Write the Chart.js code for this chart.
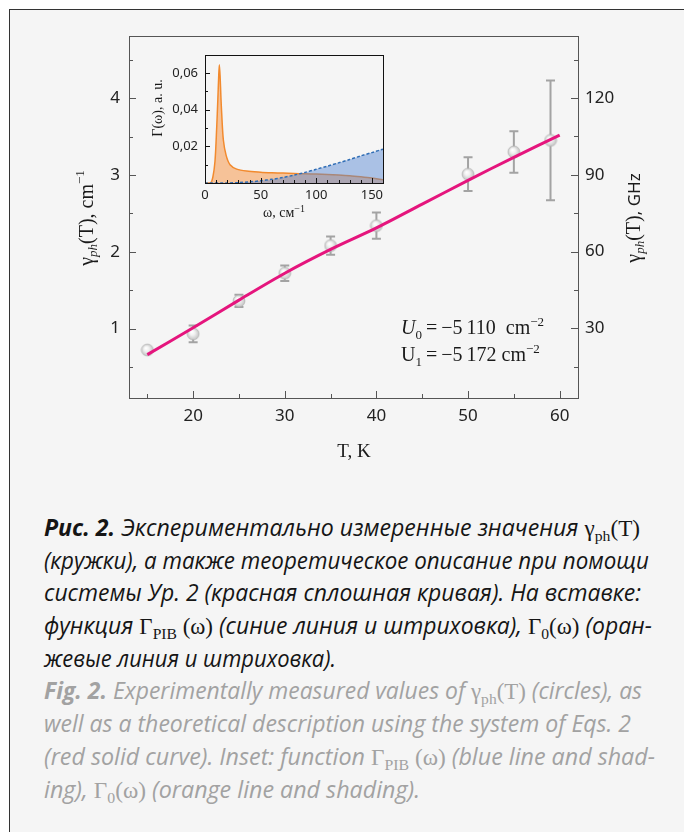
<!DOCTYPE html>
<html>
<head>
<meta charset="utf-8">
<script src="https://cdn.jsdelivr.net/npm/chart.js@4.4.1/dist/chart.umd.min.js"></script>
<style>
  html, body { margin: 0; padding: 0; background: #fff; }
  body { width: 684px; height: 832px; position: relative; overflow: hidden; }
  .panel { position: absolute; left: 9px; top: 9px; width: 700px; height: 840px;
           background: #f5f5f5; border-left: 1px solid #333; border-top: 1px solid #333; }
  #main { position: absolute; left: 0; top: 0; }
  #inset { position: absolute; left: 140px; top: 40px; }
  .cap { position: absolute; left: 44px; top: 511px; font-family: "Open Sans", "Noto Sans", sans-serif;
         font-style: italic; font-size: 23px; line-height: 32.7px; color: #151515; }
  .cap .ln { white-space: nowrap; height: 32.7px; }
  .cap .fit { display: inline-block; transform-origin: 0 50%; }
  .cap .en { color: #a2a2a2; }
  .s { font-family: "Liberation Serif", serif; font-style: normal; }
  .cap sub { font-size: 0.68em; vertical-align: -0.32em; line-height: 0; }
</style>
</head>
<body>
<div class="panel"></div>
<canvas id="main" width="684" height="480"></canvas>
<canvas id="inset" width="250" height="185"></canvas>

<div class="cap">
  <div class="ln"><span class="fit" data-w="596"><b>Рис. 2.</b> Экспериментально измеренные значения <span class="s">γ<sub>ph</sub>(T)</span></span></div>
  <div class="ln"><span class="fit" data-w="605">(кружки), а также теоретическое описание при помощи</span></div>
  <div class="ln"><span class="fit" data-w="597">системы Ур. 2 (красная сплошная кривая). На вставке:</span></div>
  <div class="ln"><span class="fit" data-w="608">функция <span class="s">Γ<sub>PIB</sub> (ω)</span> (синие линия и штриховка), <span class="s">Γ<sub>0</sub>(ω)</span> (оран-</span></div>
  <div class="ln"><span class="fit" data-w="292">жевые линия и штриховка).</span></div>
  <div class="ln en"><span class="fit" data-w="598"><b>Fig. 2.</b> Experimentally measured values of <span class="s">γ<sub>ph</sub>(T)</span> (circles), as</span></div>
  <div class="ln en"><span class="fit" data-w="587">well as a theoretical description using the system of Eqs. 2</span></div>
  <div class="ln en"><span class="fit" data-w="611">(red solid curve). Inset: function <span class="s">Γ<sub>PIB</sub> (ω)</span> (blue line and shad-</span></div>
  <div class="ln en"><span class="fit" data-w="376">ing), <span class="s">Γ<sub>0</sub>(ω)</span> (orange line and shading).</span></div>
</div>

<script>
// measured points, T in K, gamma in cm^-1
const T = [15, 20, 25, 30, 35, 40, 50, 55, 59];
const gamma = [0.72, 0.93, 1.36, 1.72, 2.08, 2.34, 3.01, 3.30, 3.45];
const gammaErr = [0, 0.11, 0.08, 0.10, 0.12, 0.17, 0.22, 0.27, 0.78];

// fit curve (Eq. 2)
const fitT = [15, 20, 25, 30, 35, 40, 45, 50, 55, 60];
const fitGamma = [0.66, 1.01, 1.37, 1.72, 2.03, 2.31, 2.62, 2.93, 3.23, 3.52];

const xTicks = [15, 20, 25, 30, 35, 40, 45, 50, 55, 60];
const xLabels = [20, 30, 40, 50, 60];
const yTicks = [0.5, 1, 1.5, 2, 2.5, 3, 3.5, 4, 4.5];
const yLabels = [1, 2, 3, 4];
const ghzTicks = [15, 30, 45, 60, 75, 90, 105, 120, 135];
const ghzLabels = [30, 60, 90, 120];

// inset: Gamma_0(omega) and Gamma_PIB(omega)
const omega0 = [0, 5, 7, 9, 10.5, 11.5, 12.3, 12.9, 13.6, 14.3, 15, 16.5, 19, 22.5, 28.5, 37.5, 50, 60, 70, 80, 90, 100, 110, 120, 130, 140, 150, 160];
const gamma0 = [0, 0, 0.003, 0.012, 0.03, 0.045, 0.058, 0.0646, 0.058, 0.047, 0.038, 0.0235, 0.0151, 0.010, 0.0076, 0.0065, 0.0059, 0.0056, 0.0054, 0.0052, 0.005, 0.0049, 0.0047, 0.0044, 0.004, 0.0034, 0.0027, 0.0018];
const omegaPIB = [0, 20, 30, 40, 50, 60, 70, 80, 90, 100, 110, 120, 130, 140, 150, 160];
const gammaPIB = [0, 0, 0.0002, 0.0006, 0.0012, 0.002, 0.003, 0.0043, 0.0058, 0.0075, 0.0092, 0.011, 0.0128, 0.0148, 0.0166, 0.0185];

const insetXTicks = [0, 10, 20, 30, 40, 50, 60, 70, 80, 90, 100, 110, 120, 130, 140, 150, 160];
const insetXLabels = [0, 50, 100, 150];
const insetYTicks = [0.01, 0.02, 0.03, 0.04, 0.05, 0.06];
const insetYLabels = [0.02, 0.04, 0.06];

const CM_TO_GHZ = 29.98;
const yMin = 0.095, yMax = 4.81;

Chart.defaults.font.family = '"Noto Sans", sans-serif';
Chart.defaults.color = '#222';

const SERIF = '"Liberation Serif", serif';

// text with sub/superscripts on canvas
function drawRich(ctx, segs, x, y, align) {
  let w = 0;
  segs.forEach(s => { ctx.font = s.f; w += ctx.measureText(s.t).width; });
  let cx = align === 'center' ? x - w / 2 : x;
  segs.forEach(s => {
    ctx.font = s.f;
    ctx.fillText(s.t, cx, y + (s.dy || 0));
    cx += ctx.measureText(s.t).width;
  });
}

// white shaded ball for the markers
function sphere(r) {
  const c = document.createElement('canvas');
  c.width = c.height = 2 * r + 2;
  const g = c.getContext('2d');
  const grad = g.createRadialGradient(r - 0.5, r - 1, 0.5, r + 1, r + 1, r);
  grad.addColorStop(0, '#ffffff');
  grad.addColorStop(0.4, '#f0f0f0');
  grad.addColorStop(0.8, '#d2d2d2');
  grad.addColorStop(1, '#bcbcbc');
  g.fillStyle = grad;
  g.beginPath();
  g.arc(r + 1, r + 1, r, 0, Math.PI * 2);
  g.fill();
  g.strokeStyle = 'rgba(175,175,175,0.7)';
  g.lineWidth = 0.8;
  g.stroke();
  return c;
}

// box + inward ticks
const frame = {
  id: 'frame',
  afterDatasetsDraw(chart, args, opts) {
    const {ctx, chartArea: a} = chart;
    ctx.save();
    ctx.strokeStyle = opts.color;
    ctx.lineWidth = 1;
    ctx.strokeRect(Math.round(a.left) + 0.5, Math.round(a.top) + 0.5,
                   Math.round(a.right - a.left), Math.round(a.bottom - a.top));
    opts.ticks.forEach(t => {
      const s = chart.scales[t.id];
      s.ticks.forEach(tk => {
        const len = t.labels.includes(tk.value) ? opts.major : opts.minor;
        const p = Math.round(s.getPixelForValue(tk.value)) + 0.5;
        ctx.beginPath();
        if (s.position === 'bottom') { ctx.moveTo(p, a.bottom); ctx.lineTo(p, a.bottom - len); }
        else if (s.position === 'left') { ctx.moveTo(a.left, p); ctx.lineTo(a.left + len, p); }
        else { ctx.moveTo(a.right, p); ctx.lineTo(a.right - len, p); }
        ctx.stroke();
      });
    });
    ctx.restore();
  }
};

const errorBars = {
  id: 'errorBars',
  beforeDatasetsDraw(chart) {
    const {ctx, scales: {x, y}} = chart;
    ctx.save();
    ctx.strokeStyle = '#a3a3a3';
    ctx.lineWidth = 2;
    T.forEach((t, i) => {
      if (!gammaErr[i]) return;
      const px = x.getPixelForValue(t);
      const top = y.getPixelForValue(gamma[i] + gammaErr[i]);
      const bot = y.getPixelForValue(gamma[i] - gammaErr[i]);
      ctx.beginPath();
      ctx.moveTo(px, top); ctx.lineTo(px, bot);
      ctx.moveTo(px - 4.5, top); ctx.lineTo(px + 4.5, top);
      ctx.moveTo(px - 4.5, bot); ctx.lineTo(px + 4.5, bot);
      ctx.stroke();
    });
    ctx.restore();
  }
};

const mainText = {
  id: 'mainText',
  afterDraw(chart) {
    const {ctx} = chart;
    ctx.save();
    ctx.fillStyle = '#1a1a1a';
    ctx.textBaseline = 'alphabetic';
    ctx.textAlign = 'left';
    // left title
    ctx.save();
    ctx.translate(86, 218);
    ctx.rotate(-Math.PI / 2);
    drawRich(ctx, [
      {t: 'γ', f: '20px ' + SERIF},
      {t: 'ph', f: 'italic 13px ' + SERIF, dy: 4},
      {t: '(T), cm', f: '20px ' + SERIF},
      {t: '−1', f: '13px ' + SERIF, dy: -9}
    ], 0, 6.5, 'center');
    ctx.restore();
    // right title
    ctx.save();
    ctx.translate(634, 218);
    ctx.rotate(-Math.PI / 2);
    drawRich(ctx, [
      {t: 'γ', f: '20px ' + SERIF},
      {t: 'ph', f: 'italic 13px ' + SERIF, dy: 4},
      {t: '(T)', f: '20px ' + SERIF},
      {t: ', GHz', f: '17px "Noto Sans"'}
    ], 0, 6, 'center');
    ctx.restore();
    // x title
    drawRich(ctx, [{t: 'T, K', f: '19px ' + SERIF}], 354, 457, 'center');
    // U0, U1
    drawRich(ctx, [
      {t: 'U', f: 'italic 20px ' + SERIF},
      {t: '0', f: '13px ' + SERIF, dy: 5},
      {t: '\u2009=\u2009−5\u2009110  cm', f: '20px ' + SERIF},
      {t: '−2', f: '13px ' + SERIF, dy: -8}
    ], 401, 333.5, 'left');
    drawRich(ctx, [
      {t: 'U', f: '20px ' + SERIF},
      {t: '1', f: '13px ' + SERIF, dy: 5},
      {t: '\u2009=\u2009−5\u2009172 cm', f: '20px ' + SERIF},
      {t: '−2', f: '13px ' + SERIF, dy: -8}
    ], 401, 361, 'left');
    ctx.restore();
  }
};

const tickFont = {size: 17};

new Chart(document.getElementById('main'), {
  data: {
    datasets: [
      {
        type: 'line',
        data: fitT.map((t, i) => ({x: t, y: fitGamma[i]})),
        borderColor: '#e5157d',
        borderWidth: 3,
        pointRadius: 0,
        tension: 0.3,
        fill: false
      },
      {
        type: 'scatter',
        data: T.map((t, i) => ({x: t, y: gamma[i]})),
        pointStyle: sphere(6),
        pointRadius: 6
      }
    ]
  },
  options: {
    responsive: false,
    animation: false,
    layout: {padding: {top: 36, left: 0, right: 0, bottom: 0}},
    plugins: {
      legend: {display: false},
      tooltip: {enabled: false},
      frame: {color: '#555', major: 7, minor: 4, ticks: [
        {id: 'x', labels: xLabels}, {id: 'y', labels: yLabels}, {id: 'y2', labels: ghzLabels}
      ]}
    },
    scales: {
      x: {
        type: 'linear', position: 'bottom', min: 13, max: 62,
        grid: {display: false, drawTicks: false}, border: {display: false},
        afterBuildTicks: s => { s.ticks = xTicks.map(v => ({value: v})); },
        afterFit: s => { s.height = 82; },
        ticks: {font: tickFont, padding: 8, autoSkip: false, maxRotation: 0,
                callback: v => xLabels.includes(v) ? String(v) : ''}
      },
      y: {
        type: 'linear', position: 'left', min: yMin, max: yMax,
        grid: {display: false, drawTicks: false}, border: {display: false},
        afterBuildTicks: s => { s.ticks = yTicks.map(v => ({value: v})); },
        afterFit: s => { s.width = 129; },
        ticks: {font: tickFont, padding: 9, autoSkip: false,
                callback: v => yLabels.includes(v) ? String(v) : ''}
      },
      y2: {
        type: 'linear', position: 'right', min: yMin * CM_TO_GHZ, max: yMax * CM_TO_GHZ,
        grid: {display: false, drawTicks: false}, border: {display: false},
        afterBuildTicks: s => { s.ticks = ghzTicks.map(v => ({value: v})); },
        afterFit: s => { s.width = 106; },
        ticks: {font: tickFont, padding: 7, autoSkip: false,
                callback: v => ghzLabels.includes(v) ? String(v) : ''}
      }
    }
  },
  plugins: [errorBars, frame, mainText]
});

const insetText = {
  id: 'insetText',
  afterDraw(chart) {
    const {ctx} = chart;
    ctx.save();
    ctx.fillStyle = '#1a1a1a';
    ctx.textBaseline = 'alphabetic';
    drawRich(ctx, [
      {t: 'ω, см', f: '14px ' + SERIF},
      {t: '−1', f: '10px ' + SERIF, dy: -5}
    ], 284 - 140, 217 - 40, 'center');
    ctx.translate(158 - 140, 108 - 40);
    ctx.rotate(-Math.PI / 2);
    drawRich(ctx, [{t: 'Γ(ω), a. u.', f: '14px ' + SERIF}], 0, 4, 'center');
    ctx.restore();
  }
};

new Chart(document.getElementById('inset'), {
  type: 'line',
  data: {
    datasets: [
      {
        data: omegaPIB.map((w, i) => ({x: w, y: gammaPIB[i]})),
        borderColor: '#2f6db5',
        borderWidth: 1.5,
        borderDash: [3, 2],
        backgroundColor: 'rgba(80,130,210,0.45)',
        fill: 'origin',
        pointRadius: 0,
        tension: 0.3
      },
      {
        data: omega0.map((w, i) => ({x: w, y: gamma0[i]})),
        borderColor: '#f28a2e',
        borderWidth: 1.5,
        backgroundColor: 'rgba(247,160,90,0.6)',
        fill: 'origin',
        pointRadius: 0,
        tension: 0.3
      }
    ]
  },
  options: {
    responsive: false,
    animation: false,
    layout: {padding: {top: 4, right: 7, left: 0, bottom: 0}},
    plugins: {
      legend: {display: false},
      tooltip: {enabled: false},
      frame: {color: '#111', major: 5, minor: 3, ticks: [
        {id: 'x', labels: insetXLabels}, {id: 'y', labels: insetYLabels}
      ]}
    },
    scales: {
      x: {
        type: 'linear', min: 0, max: 160,
        grid: {display: false, drawTicks: false}, border: {display: false},
        afterBuildTicks: s => { s.ticks = insetXTicks.map(v => ({value: v})); },
        afterFit: s => { s.height = 42; },
        ticks: {font: {size: 13}, padding: 4, autoSkip: false, maxRotation: 0,
                callback: v => insetXLabels.includes(v) ? String(v) : ''}
      },
      y: {
        type: 'linear', min: 0, max: 0.07,
        grid: {display: false, drawTicks: false}, border: {display: false},
        afterBuildTicks: s => { s.ticks = insetYTicks.map(v => ({value: v})); },
        afterFit: s => { s.width = 65; },
        ticks: {font: {size: 13}, padding: 7, autoSkip: false,
                callback: v => insetYLabels.includes(v) ? v.toFixed(2).replace('.', ',') : ''}
      }
    }
  },
  plugins: [frame, insetText]
});

// squeeze caption lines to the widths in the figure
document.fonts.ready.then(() => {
  document.querySelectorAll('.fit').forEach(el => {
    const w = el.getBoundingClientRect().width;
    el.style.transform = 'scaleX(' + (Number(el.dataset.w) / w) + ')';
  });
});
</script>
</body>
</html>
